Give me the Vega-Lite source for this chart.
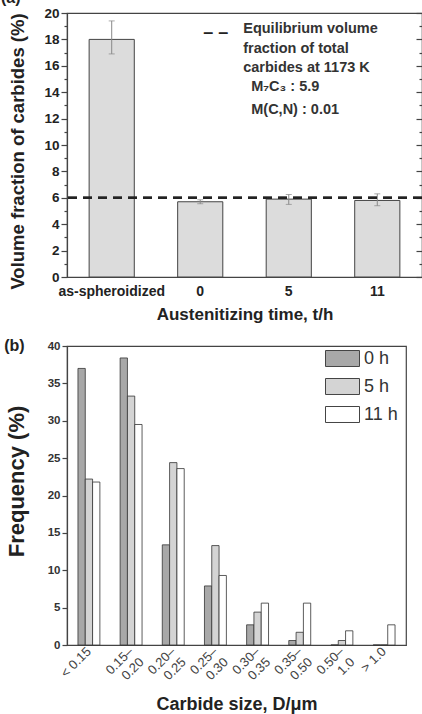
{
  "$schema": "https://vega.github.io/schema/vega-lite/v6.json",
  "padding": {"left": 0, "top": -11, "right": 0, "bottom": 0},
  "background": "white",
  "spacing": 14,
  "resolve": {"legend": {"fill": "independent"}},
  "config": {
    "font": "Liberation Sans",
    "view": {"stroke": "#444", "strokeWidth": 1.2},
    "axis": {"domainColor": "#444", "tickColor": "#444", "labelColor": "#222", "titleColor": "#222", "grid": false, "domainWidth": 1.2, "tickWidth": 1.2}
  },
  "vconcat": [
    {
      "width": 355,
      "height": 264,
      "title": {"text": "(a)", "anchor": "start", "frame": "bounds", "fontSize": 16, "fontWeight": "bold", "color": "#222", "offset": 0, "dx": -8},
      "data": {"values": [
        {"cond": "as-spheroidized", "vf": 18.0, "lo": 16.9, "hi": 19.4},
        {"cond": "0", "vf": 5.7, "lo": 5.55, "hi": 5.85},
        {"cond": "5", "vf": 5.9, "lo": 5.5, "hi": 6.25},
        {"cond": "11", "vf": 5.8, "lo": 5.4, "hi": 6.3}
      ]},
      "resolve": {"axis": {"y": "independent"}},
      "layer": [
        {
          "mark": {"type": "bar", "fill": "#dcdcdc", "stroke": "#444", "strokeWidth": 1},
          "encoding": {
            "x": {"field": "cond", "type": "nominal", "sort": null,
              "scale": {"paddingInner": 0.49, "paddingOuter": 0.25},
              "axis": {"title": "Austenitizing time, t/h", "labelAngle": 0, "ticks": false, "labelFontSize": 14, "labelFontWeight": "bold", "labelPadding": 7, "titleFontSize": 17, "titleFontWeight": "bold", "titlePadding": 8}},
            "y": {"field": "vf", "type": "quantitative", "scale": {"domain": [0, 20]},
              "axis": {"title": "Volume fraction of carbides (%)", "values": [0,1,2,3,4,5,6,7,8,9,10,11,12,13,14,15,16,17,18,19,20],
                "labelExpr": "datum.value % 2 ? '' : datum.label",
                "tickSize": {"condition": {"test": "datum.value % 2 === 1", "value": 3}, "value": 6},
                "labelFontSize": 13.5, "labelFontWeight": "bold", "labelPadding": 2, "titleFontSize": 18.5, "titleFontWeight": "bold", "titlePadding": 16, "titleY": 138}}
          }
        },
        {
          "mark": {"type": "errorbar", "ticks": {"size": 6}, "color": "#888"},
          "encoding": {
            "x": {"field": "cond", "type": "nominal", "sort": null},
            "y": {"field": "lo", "type": "quantitative", "axis": null, "title": "Volume fraction of carbides (%)"},
            "y2": {"field": "hi"}
          }
        },
        {
          "mark": {"type": "rule", "strokeDash": [9, 6], "strokeWidth": 2, "color": "#222"},
          "encoding": {
            "y": {"datum": 6, "type": "quantitative",
              "axis": {"orient": "right", "values": [0,1,2,3,4,5,6,7,8,9,10,11,12,13,14,15,16,17,18,19,20], "labels": false, "title": null, "domain": false,
                "tickSize": {"condition": {"test": "datum.value % 2 === 1", "value": -3}, "value": -6}}}
          }
        },
        {
          "data": {"values": [
            {"t": "Equilibrium volume", "y": 18.8},
            {"t": "fraction of total", "y": 17.3},
            {"t": "carbides at 1173 K", "y": 15.8}
          ]},
          "mark": {"type": "text", "align": "left", "baseline": "middle", "fontWeight": "bold", "fontSize": 14.5, "color": "#333", "dx": 43},
          "encoding": {
            "x": {"datum": "0", "type": "nominal"},
            "y": {"field": "y", "type": "quantitative", "axis": null},
            "text": {"field": "t"}
          }
        },
        {
          "data": {"values": [
            {"t": "M₇C₃ : 5.9", "y": 14.4},
            {"t": "M(C,N) : 0.01", "y": 12.65}
          ]},
          "mark": {"type": "text", "align": "left", "baseline": "middle", "fontWeight": "bold", "fontSize": 14.5, "color": "#333", "dx": 51},
          "encoding": {
            "x": {"datum": "0", "type": "nominal"},
            "y": {"field": "y", "type": "quantitative", "axis": null},
            "text": {"field": "t"}
          }
        },
        {
          "data": {"values": [{"t": "– –", "y": 18.5}]},
          "mark": {"type": "text", "align": "left", "baseline": "middle", "fontWeight": "bold", "fontSize": 18, "color": "#222", "dx": 3},
          "encoding": {
            "x": {"datum": "0", "type": "nominal"},
            "y": {"field": "y", "type": "quantitative", "axis": null},
            "text": {"field": "t"}
          }
        }
      ]
    },
    {
      "width": 339,
      "height": 299,
      "title": {"text": "(b)", "anchor": "start", "frame": "bounds", "fontSize": 16, "fontWeight": "bold", "color": "#222", "offset": -14, "dx": -1},
      "data": {"values": [
        {"size": "< 0.15", "t": "0 h", "freq": 37.0},
        {"size": "< 0.15", "t": "5 h", "freq": 22.2},
        {"size": "< 0.15", "t": "11 h", "freq": 21.8},
        {"size": "0.15–0.20", "t": "0 h", "freq": 38.4},
        {"size": "0.15–0.20", "t": "5 h", "freq": 33.3},
        {"size": "0.15–0.20", "t": "11 h", "freq": 29.5},
        {"size": "0.20–0.25", "t": "0 h", "freq": 13.4},
        {"size": "0.20–0.25", "t": "5 h", "freq": 24.4},
        {"size": "0.20–0.25", "t": "11 h", "freq": 23.6},
        {"size": "0.25–0.30", "t": "0 h", "freq": 7.9},
        {"size": "0.25–0.30", "t": "5 h", "freq": 13.3},
        {"size": "0.25–0.30", "t": "11 h", "freq": 9.3},
        {"size": "0.30–0.35", "t": "0 h", "freq": 2.7},
        {"size": "0.30–0.35", "t": "5 h", "freq": 4.4},
        {"size": "0.30–0.35", "t": "11 h", "freq": 5.6},
        {"size": "0.35–0.50", "t": "0 h", "freq": 0.6},
        {"size": "0.35–0.50", "t": "5 h", "freq": 1.7},
        {"size": "0.35–0.50", "t": "11 h", "freq": 5.6},
        {"size": "0.50–1.0", "t": "0 h", "freq": 0},
        {"size": "0.50–1.0", "t": "5 h", "freq": 0.6},
        {"size": "0.50–1.0", "t": "11 h", "freq": 1.9},
        {"size": "> 1.0", "t": "0 h", "freq": 0},
        {"size": "> 1.0", "t": "5 h", "freq": 0},
        {"size": "> 1.0", "t": "11 h", "freq": 2.7}
      ]},
      "mark": {"type": "bar", "stroke": "#333", "strokeWidth": 0.8},
      "encoding": {
        "x": {"field": "size", "type": "nominal", "sort": null,
          "scale": {"paddingInner": 0.48, "paddingOuter": 0.26},
          "axis": {"title": "Carbide size, D/μm", "labelAngle": -45, "labelAlign": "right", "labelBaseline": "middle", "labelFontSize": 13, "labelColor": "#444", "ticks": false, "labelPadding": 4, "titleFontSize": 18, "titleFontWeight": "bold", "titlePadding": 8,
            "labelExpr": "indexof(datum.value,'–') > 0 ? [slice(datum.value,0,indexof(datum.value,'–')+1), slice(datum.value,indexof(datum.value,'–')+1)] : datum.value"}},
        "xOffset": {"field": "t", "type": "nominal", "sort": ["0 h", "5 h", "11 h"], "scale": {"paddingInner": 0, "paddingOuter": 0}},
        "y": {"field": "freq", "type": "quantitative", "scale": {"domain": [0, 40]},
          "axis": {"title": "Frequency (%)", "values": [0,5,10,15,20,25,30,35,40], "labelFontSize": 11.5, "labelFontWeight": "bold", "labelColor": "#333", "tickSize": 5, "titleFontSize": 22, "titleFontWeight": "bold", "titlePadding": 19, "titleY": 135}},
        "fill": {"field": "t", "type": "nominal", "sort": ["0 h", "5 h", "11 h"],
          "scale": {"domain": ["0 h", "5 h", "11 h"], "range": ["#a8a8a8", "#d4d4d4", "#ffffff"]},
          "legend": {"orient": "none", "legendX": 258, "legendY": -5, "title": null, "symbolType": "M-1,-0.47H1V0.47H-1Z", "symbolSize": 1156, "symbolStrokeColor": "#444", "symbolStrokeWidth": 1, "labelFontSize": 18, "labelColor": "#333", "rowPadding": -14, "labelOffset": 4}}
      }
    }
  ]
}
